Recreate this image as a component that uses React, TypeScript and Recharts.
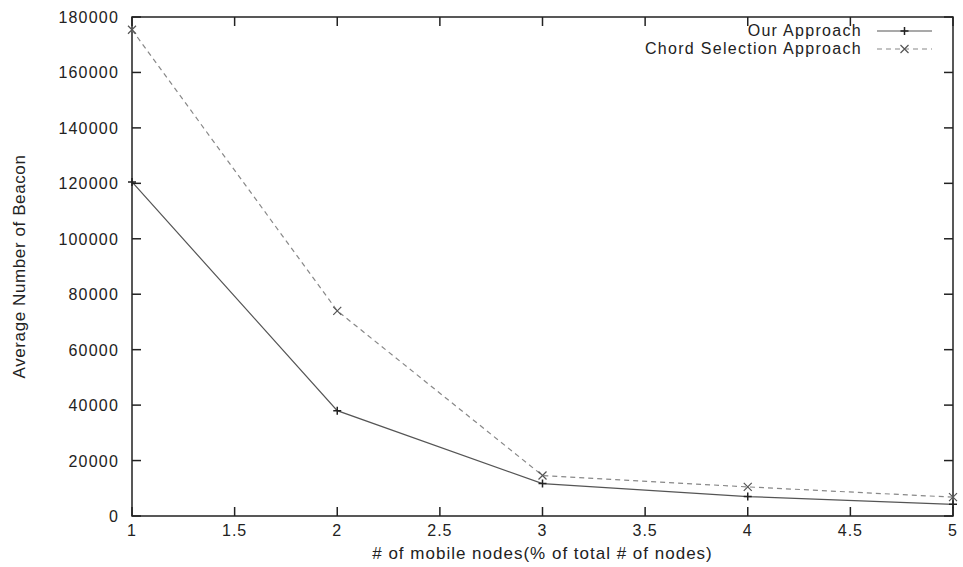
import React from 'react';
import { LineChart, Line, XAxis, YAxis, ReferenceArea, Legend } from 'recharts';

const nodesPct = [1, 2, 3, 4, 5];
const ourApproach = [120500, 38000, 11700, 7000, 4200];
const chordSelection = [175400, 74000, 14600, 10500, 6800];
const xTicks = [1, 1.5, 2, 2.5, 3, 3.5, 4, 4.5, 5];
const yTicks = [0, 20000, 40000, 60000, 80000, 100000, 120000, 140000, 160000, 180000];
const seriesNames = ['Our Approach', 'Chord Selection Approach'];

const data = nodesPct.map((x, i) => ({ x, our: ourApproach[i], chord: chordSelection[i] }));

const W = 963;
const H = 567;
const M = { top: 17, right: 10, left: 0, bottom: 0 };
const YW = 132;
const XH = 51;
const PL = M.left + YW;
const PR = W - M.right;
const PT = M.top;
const PB = H - M.bottom - XH;
const FONT = '"Liberation Sans", Arial, sans-serif';
const TXT = '#222';
const TICK = 9;
const ROW = 18;

const YTick = (props: any) => {
  const { x, y, payload } = props;
  return (
    <g>
      <line x1={PL} x2={PL + TICK} y1={y} y2={y} stroke="#222" strokeWidth={1.5} />
      <line x1={PR} x2={PR - TICK} y1={y} y2={y} stroke="#222" strokeWidth={1.5} />
      <text x={x} y={y} dy={6} textAnchor="end" fontFamily={FONT} fontSize={16} letterSpacing={1.2} fill={TXT}>
        {payload.value}
      </text>
    </g>
  );
};

const XTick = (props: any) => {
  const { x, y, payload } = props;
  return (
    <g>
      <line x1={x} x2={x} y1={PB} y2={PB - TICK} stroke="#222" strokeWidth={1.5} />
      <line x1={x} x2={x} y1={PT} y2={PT + TICK} stroke="#222" strokeWidth={1.5} />
      <text x={x} y={y + 20} textAnchor="middle" fontFamily={FONT} fontSize={16} letterSpacing={1} fill={TXT}>
        {payload.value}
      </text>
    </g>
  );
};

const YLabel = (props: any) => {
  const vb = props.viewBox || { x: 0, y: PT, width: YW, height: PB - PT };
  const cx = vb.x + 19;
  const cy = vb.y + vb.height / 2;
  return (
    <text
      x={cx}
      y={cy}
      transform={`rotate(-90 ${cx} ${cy})`}
      textAnchor="middle"
      dominantBaseline="central"
      fontFamily={FONT}
      fontSize={17}
      letterSpacing={0.6}
      fill={TXT}
    >
      Average Number of Beacon
    </text>
  );
};

const PlusDot = (props: any) => {
  const { cx, cy, index } = props;
  const s = 4;
  return (
    <path
      key={`p-${index}`}
      d={`M${cx - s},${cy}L${cx + s},${cy}M${cx},${cy - s}L${cx},${cy + s}`}
      stroke="#222"
      strokeWidth={1.5}
      fill="none"
    />
  );
};

const CrossDot = (props: any) => {
  const { cx, cy, index } = props;
  const s = 4;
  return (
    <path
      key={`c-${index}`}
      d={`M${cx - s},${cy - s}L${cx + s},${cy + s}M${cx - s},${cy + s}L${cx + s},${cy - s}`}
      stroke="#555"
      strokeWidth={1.2}
      fill="none"
    />
  );
};

const LegendBox = () => (
  <div style={{ fontFamily: FONT, fontSize: 16, color: TXT, letterSpacing: 1.3 }}>
    {seriesNames.map((name, i) => (
      <div key={name} style={{ display: 'flex', alignItems: 'center', justifyContent: 'flex-end', height: ROW }}>
        <span style={{ whiteSpace: 'nowrap', lineHeight: `${ROW}px` }}>{name}</span>
        <svg width={70} height={ROW} style={{ display: 'block' }}>
          {i === 0 ? (
            <g>
              <line x1={15} x2={70} y1={ROW / 2} y2={ROW / 2} stroke="#555" strokeWidth={1.2} />
              <path d={`M38.5,${ROW / 2}L46.5,${ROW / 2}M42.5,${ROW / 2 - 4}L42.5,${ROW / 2 + 4}`} stroke="#222" strokeWidth={1.5} />
            </g>
          ) : (
            <g>
              <line x1={15} x2={70} y1={ROW / 2} y2={ROW / 2} stroke="#888" strokeWidth={1.2} strokeDasharray="5 4" />
              <path d={`M38.5,${ROW / 2 - 4}L46.5,${ROW / 2 + 4}M38.5,${ROW / 2 + 4}L46.5,${ROW / 2 - 4}`} stroke="#555" strokeWidth={1.2} />
            </g>
          )}
        </svg>
      </div>
    ))}
  </div>
);

export default function App() {
  return (
    <div style={{ position: 'absolute', left: 0, top: 0, width: W, height: H, background: '#fff' }}>
      <LineChart width={W} height={H} data={data} margin={M}>
        <XAxis
          dataKey="x"
          type="number"
          domain={[1, 5]}
          ticks={xTicks}
          height={XH}
          tickSize={0}
          tickMargin={0}
          axisLine={false}
          tickLine={false}
          tick={<XTick />}
          interval={0}
          label={{
            value: '# of mobile nodes(% of total # of nodes)',
            position: 'insideBottom',
            offset: 8,
            fill: TXT,
            fontSize: 17,
            fontFamily: FONT,
            letterSpacing: 1,
          }}
        />
        <YAxis
          type="number"
          domain={[0, 180000]}
          ticks={yTicks}
          width={YW}
          tickSize={0}
          tickMargin={13}
          axisLine={false}
          tickLine={false}
          tick={<YTick />}
          interval={0}
          label={<YLabel />}
        />
        <ReferenceArea x1={1} x2={5} y1={0} y2={180000} fill="none" fillOpacity={0} stroke="#222" strokeWidth={1.5} />
        <Legend
          layout="vertical"
          align="center"
          verticalAlign="middle"
          content={() => <LegendBox />}
          wrapperStyle={{ position: 'absolute', top: 22, right: 31, left: 'auto', width: 'auto' }}
        />
        <Line
          dataKey="our"
          name={seriesNames[0]}
          stroke="#555"
          strokeWidth={1.2}
          dot={(p: any) => <PlusDot {...p} />}
          activeDot={false}
          isAnimationActive={false}
        />
        <Line
          dataKey="chord"
          name={seriesNames[1]}
          stroke="#888"
          strokeWidth={1.2}
          strokeDasharray="5 4"
          dot={(p: any) => <CrossDot {...p} />}
          activeDot={false}
          isAnimationActive={false}
        />
      </LineChart>
    </div>
  );
}
